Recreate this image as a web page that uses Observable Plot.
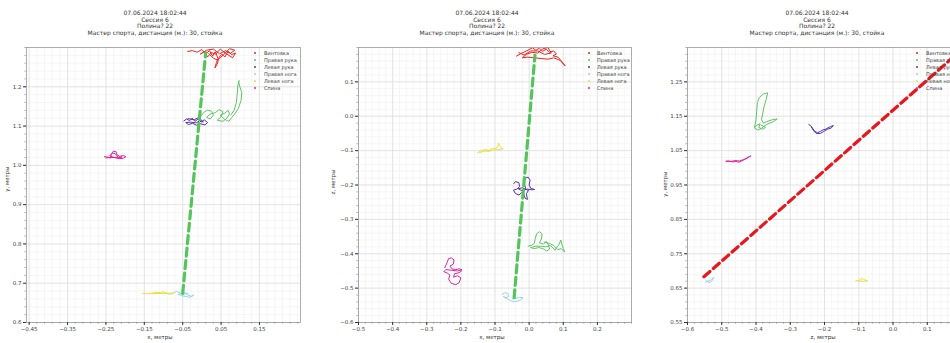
<!DOCTYPE html>
<html><head><meta charset="utf-8">
<script src="https://cdn.jsdelivr.net/npm/d3@7"></script>
<script src="https://cdn.jsdelivr.net/npm/@observablehq/plot@0.6"></script>
<style>
html,body{margin:0;padding:0;background:#fff;}
#wrap{position:relative;width:950px;height:343px;overflow:hidden;font-family:"DejaVu Sans",sans-serif;color:#333;}
.svgbox{position:absolute;top:0;}
.title{position:absolute;top:10px;width:220px;text-align:center;font-size:6px;line-height:6.6px;color:#333;}
.xl{position:absolute;top:334px;width:80px;text-align:center;font-size:5.5px;color:#333;}
.yl{position:absolute;font-size:5.5px;color:#333;transform:rotate(-90deg);transform-origin:center;width:60px;text-align:center;}
.leg{position:absolute;font-size:5px;color:#444;}
.leg div{height:7px;line-height:7px;position:relative;white-space:nowrap;}
.leg span.m{position:absolute;width:2.4px;height:2.4px;border-radius:50%;top:2.3px;}
</style></head>
<body><div id="wrap"></div>
<script>
// ---------- tick labels ----------
const p1XTicks = [-0.45, -0.35, -0.25, -0.15, -0.05, 0.05, 0.15];
const p1YTicks = [0.6, 0.7, 0.8, 0.9, 1.0, 1.1, 1.2];
const p2XTicks = [-0.5, -0.4, -0.3, -0.2, -0.1, 0.0, 0.1, 0.2];
const p2YTicks = [-0.6, -0.5, -0.4, -0.3, -0.2, -0.1, 0.0, 0.1];
const p3XTicks = [-0.6, -0.5, -0.4, -0.3, -0.2, -0.1, 0.0, 0.1];
const p3YTicks = [0.55, 0.65, 0.75, 0.85, 0.95, 1.05, 1.15, 1.25];

const titleLines = ["07.06.2024 18:02:44", "Сессия 6", "Полина? 22", "Мастер спорта, дистанция (м.): 30, стойка"];
const seriesNames = ["Винтовка", "Правая рука", "Левая рука", "Правая нога", "Левая нога", "Спина"];
const seriesColors = ["#f2211d", "#5ec563", "#5a2fa6", "#93d4ea", "#e4e23c", "#e0239a"];
const axisLabels = [["x, метры", "y, метры"], ["x, метры", "z, метры"], ["z, метры", "y, метры"]];

// ---------- panel 1 (x, y) ----------
const p1Rifle = [[-0.037,1.290],[-0.025,1.292],[-0.012,1.288],[0.000,1.295],[0.010,1.284],[0.020,1.292],[0.028,1.278],[0.035,1.289],[0.042,1.272],[0.038,1.262],[0.034,1.248],[0.040,1.258],[0.045,1.275],[0.052,1.283],[0.060,1.276],[0.068,1.290],[0.078,1.282],[0.088,1.286],[0.080,1.274],[0.070,1.280],[0.058,1.288],[0.048,1.296],[0.036,1.283],[0.024,1.287],[0.015,1.276],[0.006,1.290],[-0.004,1.283],[0.012,1.293],[0.030,1.296],[0.046,1.284],[0.062,1.292],[0.074,1.285],[0.086,1.293],[0.072,1.297],[0.055,1.280],[0.040,1.268],[0.030,1.273],[0.018,1.284]];
const p1RightHand = [[-0.003,1.125],[0.005,1.135],[0.015,1.141],[0.025,1.138],[0.030,1.128],[0.022,1.118],[0.012,1.122],[0.020,1.130],[0.035,1.134],[0.045,1.142],[0.055,1.137],[0.050,1.124],[0.040,1.115],[0.055,1.112],[0.065,1.120],[0.072,1.131],[0.068,1.140],[0.060,1.133],[0.048,1.128],[0.058,1.118],[0.070,1.112],[0.078,1.122],[0.085,1.130],[0.095,1.145],[0.102,1.165],[0.104,1.185],[0.099,1.200],[0.096,1.212],[0.097,1.216],[0.094,1.205],[0.092,1.180],[0.090,1.160],[0.084,1.140],[0.075,1.128]];
const p1LeftHand = [[-0.047,1.113],[-0.040,1.118],[-0.032,1.114],[-0.025,1.120],[-0.018,1.112],[-0.010,1.118],[-0.002,1.110],[0.006,1.116],[0.015,1.109],[0.008,1.103],[-0.004,1.106],[-0.014,1.102],[-0.024,1.107],[-0.035,1.104],[-0.042,1.109],[-0.030,1.110],[-0.015,1.108],[-0.005,1.114],[0.004,1.110],[-0.008,1.122],[-0.020,1.116],[-0.036,1.119]];
const p1RightFoot = [[-0.073,0.676],[-0.066,0.679],[-0.058,0.676],[-0.050,0.671],[-0.042,0.673],[-0.035,0.669],[-0.027,0.667],[-0.021,0.670],[-0.030,0.664],[-0.040,0.666],[-0.052,0.668],[-0.062,0.672],[-0.048,0.676],[-0.036,0.674]];
const p1LeftFoot = [[-0.154,0.674],[-0.140,0.673],[-0.128,0.675],[-0.118,0.677],[-0.108,0.676],[-0.100,0.678],[-0.092,0.675],[-0.084,0.674],[-0.076,0.676],[-0.073,0.674],[-0.082,0.672],[-0.096,0.674],[-0.112,0.674],[-0.130,0.673]];
const p1Spine = [[-0.254,1.022],[-0.245,1.021],[-0.238,1.019],[-0.236,1.028],[-0.231,1.036],[-0.224,1.035],[-0.221,1.027],[-0.214,1.023],[-0.205,1.025],[-0.198,1.022],[-0.205,1.018],[-0.216,1.017],[-0.228,1.020],[-0.240,1.024],[-0.234,1.031],[-0.226,1.030],[-0.218,1.020],[-0.208,1.021],[-0.250,1.019]];
const p1Dashed = [[-0.050,0.674],[0.010,1.287]];

// ---------- panel 2 (x, z) ----------
const p2Rifle = [[-0.037,0.175],[-0.025,0.182],[-0.012,0.188],[0.000,0.194],[0.010,0.199],[0.020,0.192],[0.030,0.198],[0.040,0.189],[0.050,0.195],[0.060,0.186],[0.072,0.190],[0.080,0.181],[0.070,0.176],[0.085,0.172],[0.095,0.160],[0.106,0.146],[0.090,0.163],[0.072,0.170],[0.055,0.166],[0.035,0.168],[0.015,0.170],[-0.005,0.172],[-0.020,0.170],[-0.008,0.180],[0.008,0.186],[0.025,0.184],[0.040,0.196],[0.055,0.200],[0.065,0.184],[0.045,0.180],[0.025,0.190],[0.005,0.190],[-0.015,0.178],[-0.030,0.185]];
const p2RightHand = [[-0.003,-0.378],[0.008,-0.375],[0.015,-0.370],[0.018,-0.355],[0.022,-0.342],[0.030,-0.336],[0.038,-0.342],[0.036,-0.357],[0.030,-0.368],[0.042,-0.372],[0.050,-0.364],[0.056,-0.374],[0.060,-0.386],[0.052,-0.392],[0.040,-0.385],[0.028,-0.382],[0.015,-0.385],[0.004,-0.382],[0.020,-0.378],[0.035,-0.378],[0.048,-0.380],[0.062,-0.376],[0.070,-0.383],[0.076,-0.390],[0.082,-0.380],[0.088,-0.372],[0.093,-0.360],[0.096,-0.372],[0.100,-0.385],[0.104,-0.395],[0.094,-0.385],[0.084,-0.388],[0.072,-0.376],[0.060,-0.370],[0.044,-0.366]];
const p2LeftHand = [[-0.045,-0.196],[-0.040,-0.190],[-0.030,-0.193],[-0.028,-0.205],[-0.036,-0.212],[-0.046,-0.215],[-0.040,-0.225],[-0.030,-0.229],[-0.022,-0.222],[-0.015,-0.214],[-0.005,-0.212],[0.008,-0.214],[0.016,-0.213],[0.005,-0.210],[0.000,-0.200],[0.003,-0.186],[-0.003,-0.177],[-0.012,-0.180],[-0.015,-0.195],[-0.010,-0.210],[-0.018,-0.218],[-0.012,-0.238],[-0.005,-0.242],[-0.008,-0.225],[-0.002,-0.216],[-0.020,-0.208],[-0.032,-0.211],[-0.022,-0.216]];
const p2RightFoot = [[-0.079,-0.518],[-0.070,-0.513],[-0.062,-0.516],[-0.060,-0.524],[-0.068,-0.528],[-0.076,-0.524],[-0.065,-0.530],[-0.055,-0.536],[-0.045,-0.540],[-0.035,-0.538],[-0.025,-0.534],[-0.018,-0.528],[-0.028,-0.527],[-0.040,-0.530],[-0.050,-0.532]];
const p2LeftFoot = [[-0.151,-0.106],[-0.140,-0.100],[-0.128,-0.097],[-0.118,-0.099],[-0.108,-0.094],[-0.098,-0.093],[-0.092,-0.088],[-0.090,-0.078],[-0.086,-0.086],[-0.080,-0.093],[-0.076,-0.095],[-0.090,-0.097],[-0.104,-0.098],[-0.118,-0.102],[-0.132,-0.101],[-0.145,-0.106]];
const p2Spine = [[-0.247,-0.440],[-0.240,-0.425],[-0.236,-0.414],[-0.228,-0.412],[-0.220,-0.418],[-0.222,-0.430],[-0.232,-0.436],[-0.226,-0.444],[-0.215,-0.446],[-0.205,-0.444],[-0.197,-0.447],[-0.210,-0.450],[-0.228,-0.448],[-0.244,-0.446],[-0.250,-0.452],[-0.240,-0.456],[-0.232,-0.462],[-0.236,-0.474],[-0.228,-0.486],[-0.215,-0.490],[-0.205,-0.484],[-0.200,-0.470],[-0.210,-0.464],[-0.222,-0.468],[-0.218,-0.458],[-0.205,-0.455],[-0.198,-0.450]];
const p2Dashed = [[-0.044,-0.528],[0.017,0.177]];

// ---------- panel 3 (z, y) ----------
const p3RightHand = [[-0.404,1.118],[-0.400,1.140],[-0.398,1.165],[-0.396,1.190],[-0.390,1.205],[-0.378,1.215],[-0.366,1.218],[-0.370,1.200],[-0.376,1.180],[-0.380,1.160],[-0.384,1.140],[-0.378,1.130],[-0.365,1.136],[-0.352,1.140],[-0.338,1.142],[-0.350,1.134],[-0.365,1.128],[-0.375,1.122],[-0.385,1.114],[-0.395,1.110],[-0.405,1.116],[-0.398,1.124],[-0.388,1.128],[-0.392,1.118],[-0.380,1.112],[-0.372,1.118],[-0.385,1.124]];
const p3LeftHand = [[-0.246,1.126],[-0.240,1.122],[-0.234,1.114],[-0.228,1.106],[-0.220,1.102],[-0.212,1.106],[-0.205,1.110],[-0.198,1.112],[-0.190,1.116],[-0.182,1.120],[-0.174,1.123],[-0.180,1.116],[-0.192,1.112],[-0.202,1.106],[-0.212,1.100],[-0.224,1.100],[-0.232,1.108],[-0.238,1.118]];
const p3RightFoot = [[-0.546,0.672],[-0.540,0.668],[-0.534,0.666],[-0.530,0.670],[-0.526,0.676],[-0.523,0.681],[-0.528,0.678],[-0.534,0.672],[-0.542,0.670],[-0.547,0.667]];
const p3LeftFoot = [[-0.109,0.671],[-0.100,0.672],[-0.094,0.676],[-0.090,0.678],[-0.085,0.675],[-0.078,0.672],[-0.074,0.671],[-0.086,0.670],[-0.100,0.670]];
const p3Spine = [[-0.488,1.018],[-0.478,1.020],[-0.468,1.017],[-0.458,1.019],[-0.450,1.016],[-0.442,1.020],[-0.434,1.024],[-0.426,1.028],[-0.418,1.033],[-0.415,1.035],[-0.424,1.030],[-0.436,1.024],[-0.448,1.020],[-0.462,1.021],[-0.476,1.018],[-0.486,1.020]];
const p3Rifle = [];
const p3Dashed = [[-0.552,0.683],[0.185,1.330]];

// ---------- build ----------
const wrap = document.getElementById("wrap");
const fmt = (d, n) => (Math.abs(d) < 1e-9 ? (0).toFixed(n) : d.toFixed(n)).replace("-", "\u2212");

function minor(ticks, domain) {
  const step = (ticks[1] - ticks[0]) / 5;
  const out = [];
  const start = ticks[0] - Math.ceil((ticks[0] - domain[0]) / step) * step;
  for (let v = start; v <= domain[1] + 1e-9; v += step) out.push(+v.toFixed(6));
  return out.filter(v => v >= domain[0] - 1e-9 && v <= domain[1] + 1e-9);
}

function panel(cfg) {
  const {left, ml, mr, xDomain, yDomain, xTicks, yTicks, xDec, yDec, series, dashed, dashColor} = cfg;
  const mx = minor(xTicks, xDomain), my = minor(yTicks, yDomain);
  const marks = [
    Plot.ruleX(mx, {x: d => d, stroke: "#f0f0f0", strokeWidth: 0.6}),
    Plot.ruleY(my, {y: d => d, stroke: "#f0f0f0", strokeWidth: 0.6}),
    Plot.ruleX(xTicks, {x: d => d, stroke: "#dcdcdc", strokeWidth: 0.7}),
    Plot.ruleY(yTicks, {y: d => d, stroke: "#dcdcdc", strokeWidth: 0.7}),
  ];
  series.forEach((s, i) => {
    if (s.length) marks.push(Plot.line(s, {x: d => d[0], y: d => d[1], stroke: seriesColors[i], strokeWidth: 1, strokeLinejoin: "round"}));
  });
  marks.push(Plot.line(dashed, {x: d => d[0], y: d => d[1], stroke: dashColor, strokeWidth: 3.2, strokeDasharray: "8,4.5"}));
  marks.push(Plot.frame({stroke: "#9a9a9a", strokeWidth: 0.8}));
  marks.push(Plot.axisX(mx, {tickSize: 1.8, tickFormat: () => "", stroke: "#777", strokeWidth: 0.5, label: null}));
  marks.push(Plot.axisY(my, {tickSize: 1.8, tickFormat: () => "", stroke: "#777", strokeWidth: 0.5, label: null}));
  marks.push(Plot.axisX(xTicks, {tickSize: 3, tickPadding: 2, tickFormat: d => fmt(d, xDec), fontSize: 5.5, fill: "#444", label: null}));
  marks.push(Plot.axisY(yTicks, {tickSize: 3, tickPadding: 2, tickFormat: d => fmt(d, yDec), fontSize: 5.5, fill: "#444", label: null}));
  const svg = Plot.plot({
    width: 316, height: 343, marginLeft: ml, marginRight: mr, marginTop: 47, marginBottom: 21,
    x: {type: "linear", domain: xDomain, label: null},
    y: {type: "linear", domain: yDomain, label: null},
    style: {fontFamily: "DejaVu Sans, sans-serif", background: "transparent", overflow: "visible"},
    marks
  });
  svg.classList.add("svgbox");
  svg.style.left = left + "px";
  wrap.appendChild(svg);
}

panel({left: 0, ml: 26, mr: 16, xDomain: [-0.457, 0.257], yDomain: [0.6, 1.3], xTicks: p1XTicks, yTicks: p1YTicks, xDec: 2, yDec: 1,
  series: [p1Rifle, p1RightHand, p1LeftHand, p1RightFoot, p1LeftFoot, p1Spine], dashed: p1Dashed, dashColor: "#55c45c"});
panel({left: 330, ml: 28, mr: 15, xDomain: [-0.5, 0.3], yDomain: [-0.6, 0.2], xTicks: p2XTicks, yTicks: p2YTicks, xDec: 1, yDec: 1,
  series: [p2Rifle, p2RightHand, p2LeftHand, p2RightFoot, p2LeftFoot, p2Spine], dashed: p2Dashed, dashColor: "#55c45c"});
panel({left: 660, ml: 27, mr: 15, xDomain: [-0.6, 0.2], yDomain: [0.55, 1.35], xTicks: p3XTicks, yTicks: p3YTicks, xDec: 1, yDec: 2,
  series: [p3Rifle, p3RightHand, p3LeftHand, p3RightFoot, p3LeftFoot, p3Spine], dashed: p3Dashed, dashColor: "#e8171d"});

// titles, axis labels, legends
const layout = [
  {tc: 155, xl: 160, ylx: 7, yly: 180, legM: 256, legT: 265},
  {tc: 487, xl: 492, ylx: 333, yly: 183, legM: 590, legT: 598},
  {tc: 817, xl: 823, ylx: 665, yly: 185, legM: 918, legT: 927},
];
layout.forEach((L, i) => {
  const t = document.createElement("div");
  t.className = "title"; t.style.left = (L.tc - 110) + "px";
  t.innerHTML = titleLines.map(s => `<div>${s}</div>`).join("");
  wrap.appendChild(t);
  const xl = document.createElement("div");
  xl.className = "xl"; xl.style.left = (L.xl - 40) + "px"; xl.textContent = axisLabels[i][0];
  wrap.appendChild(xl);
  const yl = document.createElement("div");
  yl.className = "yl"; yl.style.left = (L.ylx - 30) + "px"; yl.style.top = (L.yly - 4) + "px"; yl.textContent = axisLabels[i][1];
  wrap.appendChild(yl);
  const lg = document.createElement("div");
  lg.className = "leg"; lg.style.left = (L.legM - 2) + "px"; lg.style.top = "49.5px";
  lg.innerHTML = seriesNames.map((n, k) => `<div><span class="m" style="left:0;background:${seriesColors[k]}"></span><span style="position:absolute;left:${L.legT - L.legM + 1}px">${n}</span></div>`).join("");
  wrap.appendChild(lg);
});
</script></body></html>
